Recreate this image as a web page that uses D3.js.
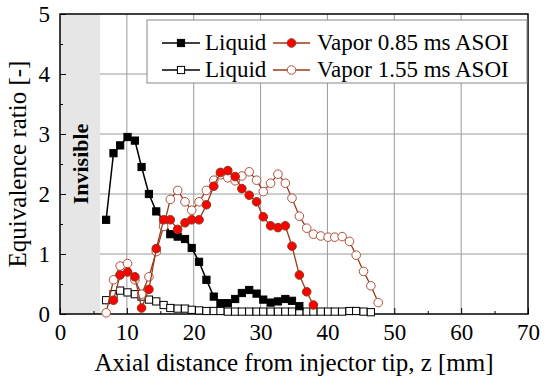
<!DOCTYPE html>
<html>
<head>
<meta charset="utf-8">
<script src="https://cdn.jsdelivr.net/npm/d3@7"></script>
<style>
  body { margin: 0; background: #fff; }
  svg text { font-family: "Liberation Serif", "Times New Roman", serif !important; }
</style>
</head>
<body>
<div id="chart"></div>
<script>

// axial positions of the measurement points [mm]
var zPos = [6.9, 8.0, 9.0, 10.1, 11.2, 12.2, 13.3, 14.4, 15.5, 16.5,
            17.6, 18.7, 19.7, 20.8, 21.9, 23.0, 24.0, 25.1, 26.2, 27.2,
            28.3, 29.4, 30.4, 31.5, 32.6, 33.7, 34.7, 35.8, 36.9, 37.9,
            39.0, 40.1, 41.1, 42.2, 43.3, 44.3, 45.4, 46.5, 47.6];

// equivalence ratio per series (null = no point)
var liquidEarly = [1.57, 2.68, 2.81, 2.95, 2.89, 2.45, 2.00, 1.71, 1.56, 1.33,
                   1.29, 1.25, 1.10, 0.87, 0.57, 0.29, 0.18, 0.18, 0.25, 0.35,
                   0.40, 0.34, 0.24, 0.19, 0.21, 0.25, 0.22, 0.13,
                   null, null, null, null, null, null, null, null, null, null, null];
var liquidLate = [0.23, 0.33, 0.39, 0.36, 0.33, 0.29, 0.24, 0.21, 0.15, 0.10,
                  0.09, 0.09, 0.07, 0.06, 0.05, 0.05, 0.05, 0.04, 0.04, 0.04,
                  0.04, 0.04, 0.04, 0.04, 0.04, 0.04, 0.04, 0.04, 0.04, 0.04,
                  0.04, 0.04, 0.04, 0.04, 0.05, 0.05, 0.04, 0.03, null];
var vapor085 = [null, 0.23, 0.65, 0.70, 0.62, 0.10, 0.41, 1.09, 1.57, 1.57,
                1.41, 1.52, 1.57, 1.57, 1.82, 2.13, 2.36, 2.39, 2.29, 2.09,
                1.98, 1.87, 1.62, 1.47, 1.44, 1.47, 1.13, 0.65, 0.37, 0.15,
                null, null, null, null, null, null, null, null, null];
var vapor155 = [0.02, 0.57, 0.80, 0.84, 0.57, 0.33, 0.62, 1.04, 1.46, 1.91,
                2.06, 1.87, 1.73, 1.87, 2.06, 2.23, 2.32, 2.27, 2.22, 2.30,
                2.37, 2.23, 2.04, 2.18, 2.33, 2.18, 1.93, 1.63, 1.43, 1.33,
                1.30, 1.28, 1.28, 1.29, 1.21, 0.98, 0.71, 0.47, 0.19];

var xTicks = [0, 10, 20, 30, 40, 50, 60, 70];
var xMinor = [5, 15, 25, 35, 45, 55, 65];
var yTicks = [0, 1, 2, 3, 4, 5];
var yMinor = [0.5, 1.5, 2.5, 3.5, 4.5];
var invisibleEnd = 6.0;

var seriesNames = ["Liquid", "Liquid", "Vapor 0.85 ms ASOI", "Vapor 1.55 ms ASOI"];

var W = 550, H = 387;
var m = {left: 60, right: 22, top: 14, bottom: 73};

var svg = d3.select("#chart").append("svg")
    .attr("width", W).attr("height", H);

var x = d3.scaleLinear().domain([0, 70]).range([m.left, W - m.right]);
var y = d3.scaleLinear().domain([0, 5]).range([H - m.bottom, m.top]);

// grid
svg.append("g").selectAll("line").data(xTicks.slice(1, -1)).enter().append("line")
    .attr("x1", function(d) { return x(d); }).attr("x2", function(d) { return x(d); })
    .attr("y1", y(0)).attr("y2", y(5))
    .attr("stroke", "#9a9a9a").attr("stroke-width", 1);
svg.append("g").selectAll("line").data(yTicks.slice(1, -1)).enter().append("line")
    .attr("y1", function(d) { return y(d); }).attr("y2", function(d) { return y(d); })
    .attr("x1", x(0)).attr("x2", x(70))
    .attr("stroke", "#9a9a9a").attr("stroke-width", 1);

// invisible zone
svg.append("rect")
    .attr("x", x(0)).attr("y", y(5))
    .attr("width", x(invisibleEnd) - x(0)).attr("height", y(0) - y(5))
    .attr("fill", "#e6e6e6");
svg.append("text")
    .attr("transform", "translate(" + (x(invisibleEnd / 2) + 8) + "," + y(2.5) + ") rotate(-90)")
    .attr("text-anchor", "middle")
    .attr("font-size", "22px").attr("font-weight", "bold")
    .text("Invisible");

// axes, ticks inward
svg.append("g").attr("transform", "translate(0," + y(0) + ")")
    .call(d3.axisBottom(x).tickValues(xTicks).tickFormat(d3.format("d"))
          .tickSizeInner(-6).tickSizeOuter(0).tickPadding(10));
svg.append("g").attr("transform", "translate(0," + y(0) + ")")
    .call(d3.axisBottom(x).tickValues(xMinor).tickSizeInner(-3).tickSizeOuter(0).tickFormat(""));
svg.append("g").attr("transform", "translate(" + x(0) + ",0)")
    .call(d3.axisLeft(y).tickValues(yTicks).tickFormat(d3.format("d"))
          .tickSizeInner(-6).tickSizeOuter(0).tickPadding(10));
svg.append("g").attr("transform", "translate(" + x(0) + ",0)")
    .call(d3.axisLeft(y).tickValues(yMinor).tickSizeInner(-3).tickSizeOuter(0).tickFormat(""));

svg.selectAll(".domain").remove();
svg.selectAll(".tick line").attr("stroke", "#000").attr("stroke-width", 1);
svg.selectAll(".tick text").attr("font-size", "23px").attr("fill", "#000");

// frame
svg.append("rect")
    .attr("x", x(0)).attr("y", y(5))
    .attr("width", x(70) - x(0)).attr("height", y(0) - y(5))
    .attr("fill", "none").attr("stroke", "#000").attr("stroke-width", 1.5);

// axis titles
svg.append("text")
    .attr("x", (x(0) + x(70)) / 2).attr("y", 371)
    .attr("text-anchor", "middle").attr("font-size", "25px")
    .text("Axial distance from injector tip, z [mm]");
svg.append("text")
    .attr("transform", "translate(26," + y(2.5) + ") rotate(-90)")
    .attr("text-anchor", "middle").attr("font-size", "25px")
    .text("Equivalence ratio [-]");

// series styles
var series = [
  {vals: liquidEarly, line: "#000", shape: "square", fill: "#000", stroke: "#000"},
  {vals: liquidLate,  line: "#000", shape: "square", fill: "#fff", stroke: "#000"},
  {vals: vapor085,    line: "#9b3a1c", shape: "circle", fill: "#ff0000", stroke: "#8b3a1a"},
  {vals: vapor155,    line: "#9b3a1c", shape: "circle", fill: "#fff", stroke: "#b0503a"}
];

var line = d3.line()
    .defined(function(d) { return d[1] !== null; })
    .x(function(d) { return x(d[0]); })
    .y(function(d) { return y(d[1]); });

function drawMarker(g, s, cx, cy) {
  if (s.shape === "square") {
    g.append("rect").attr("x", cx - 3.6).attr("y", cy - 3.6)
      .attr("width", 7.2).attr("height", 7.2)
      .attr("fill", s.fill).attr("stroke", s.stroke).attr("stroke-width", 1);
  } else {
    g.append("circle").attr("cx", cx).attr("cy", cy).attr("r", 4.3)
      .attr("fill", s.fill).attr("stroke", s.stroke).attr("stroke-width", 1);
  }
}

// draw order: liquid late, liquid early, vapor 1.55, vapor 0.85
[1, 0, 3, 2].forEach(function(i) {
  var s = series[i];
  var pts = zPos.map(function(z, k) { return [z, s.vals[k]]; });
  var g = svg.append("g");
  g.append("path").datum(pts)
    .attr("d", line).attr("fill", "none")
    .attr("stroke", s.line).attr("stroke-width", i < 2 ? 1.5 : 1.3);
  pts.filter(function(p) { return p[1] !== null; }).forEach(function(p) {
    drawMarker(g, s, x(p[0]), y(p[1]));
  });
});

// legend
var lg = svg.append("g");
lg.append("rect").attr("x", 147).attr("y", 20).attr("width", 380).attr("height", 63)
  .attr("fill", "#fff").attr("stroke", "#888").attr("stroke-width", 1);
var cols = [{x0: 162, x1: 200, tx: 205}, {x0: 273, x1: 310, tx: 317}];
var rows = [43, 70];
var legendOrder = [[0, 2], [1, 3]];
legendOrder.forEach(function(rowIdx, r) {
  rowIdx.forEach(function(i, c) {
    var s = series[i], col = cols[c], ly = rows[r];
    lg.append("line").attr("x1", col.x0).attr("x2", col.x1)
      .attr("y1", ly).attr("y2", ly)
      .attr("stroke", s.line).attr("stroke-width", 1.5);
    drawMarker(lg, s, (col.x0 + col.x1) / 2, ly);
    lg.append("text").attr("x", col.tx).attr("y", ly + 7)
      .attr("font-size", "23px").text(seriesNames[i]);
  });
});

</script>
</body>
</html>
